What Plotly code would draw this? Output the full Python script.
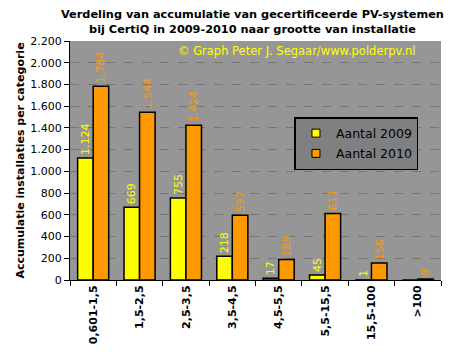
import plotly.graph_objects as go

categories = ["0,601-1,5", "1,5-2,5", "2,5-3,5", "3,5-4,5", "4,5-5,5", "5,5-15,5", "15,5-100", ">100"]
aantal_2009 = [1124, 669, 755, 218, 17, 45, 1, 0]
aantal_2010 = [1784, 1544, 1424, 597, 189, 611, 156, 9]
labels_2009 = ["1.124", "669", "755", "218", "17", "45", "1", ""]
labels_2010 = ["1.784", "1.544", "1.424", "597", "189", "611", "156", "9"]
series_names = ["Aantal 2009", "Aantal 2010"]
series_colors = ["#FFFF00", "#FF9900"]

FONT = "Verdana, DejaVu Sans, sans-serif"

fig = go.Figure()
for name, vals, labs, col in zip(series_names, [aantal_2009, aantal_2010], [labels_2009, labels_2010], series_colors):
    fig.add_trace(go.Bar(
        x=categories, y=vals, name=name, showlegend=False,
        marker=dict(color=col, line=dict(color="black", width=1.5)),
        text=labs, textposition="outside", textangle=-90, constraintext="none",
        textfont=dict(color=col, size=11, family=FONT), cliponaxis=False,
    ))
# legend entries with small square swatches
for name, col in zip(series_names, series_colors):
    fig.add_trace(go.Scatter(
        x=[None], y=[None], mode="markers", name=name, legendgroup=name,
        marker=dict(symbol="square", size=8, color=col, line=dict(color="black", width=1)),
    ))

# page body has an 8px margin, so the figure is sized/offset to compensate
fig.update_layout(
    width=453, height=353,
    margin=dict(l=59, r=20, t=33, b=81),
    paper_bgcolor="white", plot_bgcolor="#969696",
    separators=",.",
    barmode="group", bargap=0.33, bargroupgap=0,
    font=dict(family=FONT, size=11, color="black"),
    showlegend=True,
    legend=dict(
        x=0.605, y=0.682, xanchor="left", yanchor="top",
        bgcolor="#808080", bordercolor="black", borderwidth=1.5,
        font=dict(size=12.5, color="black", family=FONT),
        itemwidth=30, traceorder="grouped", tracegroupgap=1,
    ),
    annotations=[
        dict(text="<b>Verdeling van accumulatie van gecertificeerde PV-systemen<br>bij CertiQ in 2009-2010 naar grootte van installatie</b>",
             xref="paper", yref="paper", x=0.493, y=1.0, yshift=3, xanchor="center", yanchor="bottom",
             showarrow=False, font=dict(size=11.3, color="black", family=FONT)),
        dict(text="© Graph Peter J. Segaar/www.polderpv.nl",
             xref="paper", yref="paper", x=0.9385, y=0.995, xanchor="right", yanchor="top",
             showarrow=False, font=dict(size=11.5, color="#FFFF00", family=FONT)),
    ],
)
fig.update_xaxes(
    showline=True, linecolor="black", linewidth=1, mirror=False,
    ticks="outside", tickson="boundaries", ticklen=5, tickcolor="black",
    tickangle=-90, tickfont=dict(size=11, color="black", family=FONT),
    tickvals=categories, ticktext=["<b>%s</b>" % c for c in categories],
    showgrid=False,
)
fig.update_yaxes(
    range=[0, 2200], dtick=200, tickformat=",d",
    showline=True, linecolor="black", linewidth=1,
    ticks="outside", ticklen=5, tickcolor="black",
    showgrid=True, gridcolor="#757575", griddash="dash", gridwidth=1,
    zeroline=False,
    tickfont=dict(size=11, color="black", family=FONT),
    title=dict(text="<b>Accumulatie installaties per categorie</b>", font=dict(size=11, family=FONT), standoff=3),
)

fig.write_html("out.html")
